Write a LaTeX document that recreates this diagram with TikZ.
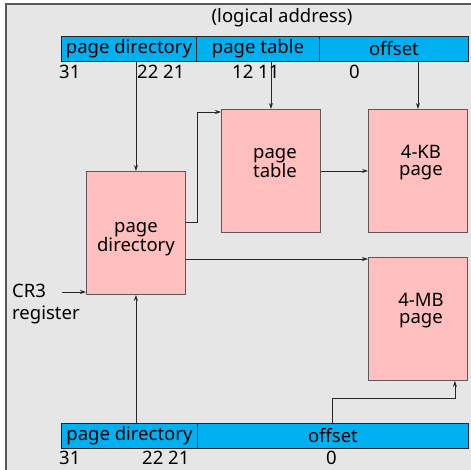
\documentclass[tikz,border=0pt]{standalone}
\usepackage{fontspec}
\setmainfont{Noto Sans}
\usetikzlibrary{arrows.meta,calc}
\definecolor{bg}{HTML}{E6E6E6}
\definecolor{barblue}{HTML}{00B0F0}
\definecolor{boxpink}{HTML}{FFBFBF}
\definecolor{edge}{HTML}{595959}
\tikzset{
  barseg/.style={draw=black!85, line width=0.9pt, fill=barblue, inner sep=0pt, anchor=north west, font=\fontsize{18.5}{18}\selectfont},
  membox/.style={draw=edge, line width=0.9pt, fill=boxpink, inner sep=0pt, anchor=north west, minimum width=99, minimum height=123},
  boxtxt/.style={inner sep=0pt, align=center, font=\fontsize{18.5}{17}\selectfont},
  lbl/.style={inner sep=0pt, font=\fontsize{18.5}{18}\selectfont},
  arr/.style={draw=black!85, line width=0.8pt, -{Stealth[length=6pt,width=4pt]}},
}
\begin{document}
\begin{tikzpicture}[x=1pt,y=-1pt]
\useasboundingbox (0,0) rectangle (470,470);
\fill[white] (0,0) rectangle (470,470);
\draw[draw=edge, line width=1.6pt, fill=bg] (6,4) rectangle (480,480);

\node[lbl] (la) at (282,18) {(logical address)};

% top bar
\node[barseg, minimum width=135, minimum height=25] (tpd) at (61,36) {page directory};
\node[barseg, minimum width=123, minimum height=25] (tpt) at (196,36) {page table};
\node[barseg, minimum width=149, minimum height=25] (tof) at (319,36) {offset};

\node[lbl, anchor=west] (n31) at (59,72) {31};
\node[lbl, anchor=west] (n2221) at (137,72) {22 21};
\node[lbl, anchor=west] (n1211) at (232,72) {12 11};
\node[lbl, anchor=west] (n0) at (349,72) {0};

% boxes
\node[membox, label={[boxtxt, yshift=-6]center:page\\directory}] (pd) at (86,171) {};
\node[membox, label={[boxtxt, yshift=8, xshift=4]center:page\\table}] (pt) at (221,109) {};
\node[membox, label={[boxtxt, yshift=8, xshift=3]center:4-KB\\page}] (kb) at (368,109) {};
\node[membox, label={[boxtxt, yshift=8, xshift=3]center:4-MB\\page}] (mb) at (368,257) {};

% bottom bar
\node[barseg, minimum width=136, minimum height=25] (bpd) at (61,423) {page directory};
\node[barseg, minimum width=271, minimum height=25] (bof) at (197,423) {offset};

\node[lbl, anchor=west] (m31) at (59,458) {31};
\node[lbl, anchor=west] (m2221) at (142,458) {22 21};
\node[lbl, anchor=west] (m0) at (326,458) {0};

% CR3
\node[lbl, anchor=north west, align=left, font=\fontsize{18.5}{22}\selectfont] (cr3) at (12,284) {CR3\\register};
\coordinate (cr3tail) at (62,292);

% connectors
\draw[arr] (tpd.south -| pd.north) -- (pd.north);
\draw[arr] (tpt.south -| pt.north) -- (pt.north);
\draw[arr] (tof.south -| kb.north) -- (kb.north);
\coordinate (pdout) at ($(pd.north east)+(0,51)$);
\coordinate (ptin) at ($(pt.north west)+(0,3)$);
\draw[arr] (pdout) -- (pdout -| 197,0) -- (ptin -| 197,0) -- (ptin);
\draw[arr] (pt.east) -- (kb.west);
\coordinate (mbin) at ($(mb.north west)+(0,2)$);
\draw[arr] (mbin -| pd.east) -- (mbin);
\draw[arr] (cr3tail) -- (cr3tail -| pd.west);
\draw[arr] (bpd.north -| pd.south) -- (pd.south);
\coordinate (mbbot) at ($(mb.south east)+(-13,0)$);
\coordinate (bend) at (332,398);
\draw[arr] (bof.north -| bend) -- (bend) -- (bend -| mbbot) -- (mbbot);
\end{tikzpicture}
\end{document}
